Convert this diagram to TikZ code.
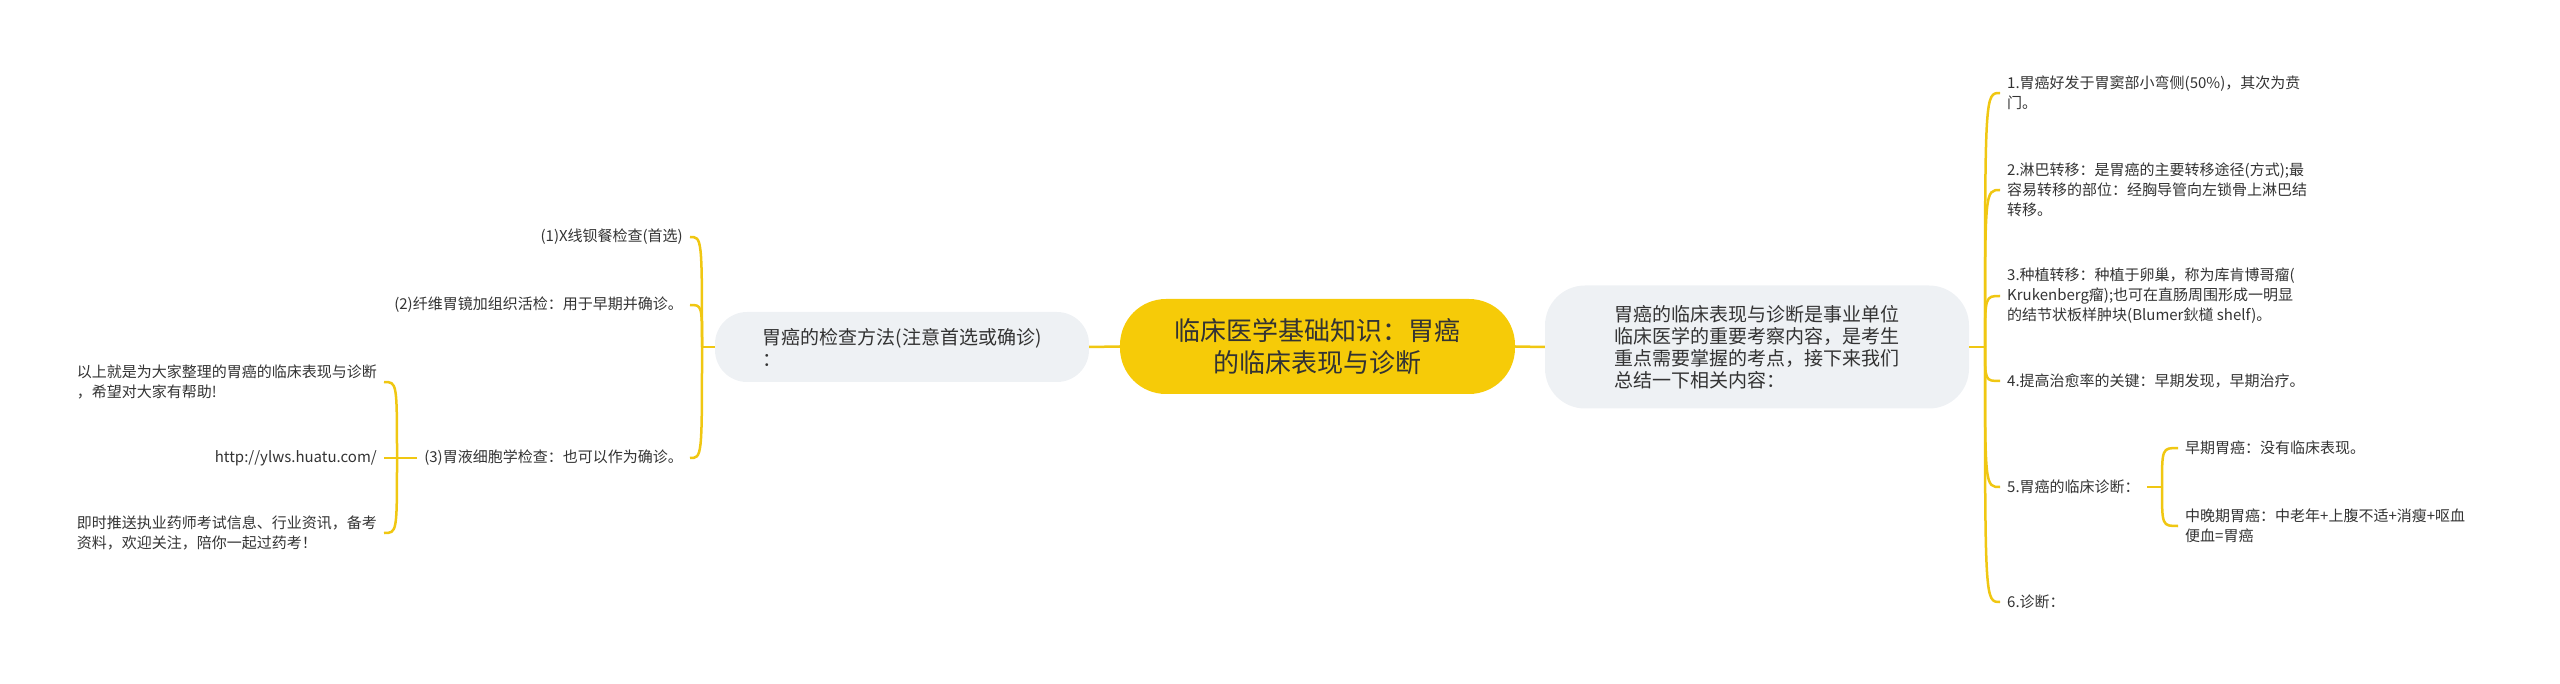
\documentclass[tikz,border=0pt]{standalone}
\usepackage{fontspec}
\setmainfont{Noto Sans CJK SC}
\usepackage{xcolor}
\definecolor{lineyellow}{RGB}{240,199,18}
\definecolor{topicyellow}{RGB}{246,203,8}
\definecolor{boxgray}{RGB}{238,241,244}
\definecolor{txtgray}{RGB}{51,51,51}
\tikzset{
  topicbox/.style={fill=topicyellow, rounded corners=46pt, minimum width=395pt, minimum height=95pt, align=center, text=txtgray, font=\fontsize{26}{32}\selectfont},
  graybox/.style={fill=boxgray, align=left, text=txtgray, font=\fontsize{19}{22}\selectfont},
  leaf/.style={align=left, inner xsep=7pt, inner ysep=0pt, text=txtgray, font=\fontsize{15}{20}\selectfont},
  branch/.style={draw=lineyellow, line width=2.5pt},
}
\begin{document}
\begin{tikzpicture}[x=1pt,y=-1pt]
  \useasboundingbox (0,0) rectangle (2560,684);

  % main topic and the two grey boxes
  \node[topicbox] (topic) at (1317.5,346.5) {临床医学基础知识：胃癌\\的临床表现与诊断};
  \node[graybox, minimum width=424pt, minimum height=123pt, rounded corners=40pt] (intro) at (1757,347) {胃癌的临床表现与诊断是事业单位\\临床医学的重要考察内容，是考生\\重点需要掌握的考点，接下来我们\\总结一下相关内容：};
  \node[graybox, minimum width=374pt, minimum height=70pt, rounded corners=32pt] (exam) at (902,347) {胃癌的检查方法(注意首选或确诊)\\：};

  \coordinate (jR) at (1985,347); \coordinate (jL) at (702,347);
  \coordinate (j5) at (2162,487); \coordinate (j3) at (397,458);

  % right side
  \node[leaf, anchor=west] (r1) at (2000,93) {1.胃癌好发于胃窦部小弯侧(50\%)，其次为贲\\门。};
  \node[leaf, anchor=west] (r2) at (2000,190) {2.淋巴转移：是胃癌的主要转移途径(方式);最\\容易转移的部位：经胸导管向左锁骨上淋巴结\\转移。};
  \node[leaf, anchor=west] (r3) at (2000,296) {3.种植转移：种植于卵巢，称为库肯博哥瘤(\\Krukenberg瘤);也可在直肠周围形成一明显\\的结节状板样肿块(Blumer鈥檤 shelf)。};
  \node[leaf, anchor=west] (r4) at (2000,381) {4.提高治愈率的关键：早期发现，早期治疗。};
  \node[leaf, anchor=west] (r5) at (2000,487) {5.胃癌的临床诊断：};
  \node[leaf, anchor=west] (r6) at (2000,602) {6.诊断：};
  \node[leaf, anchor=west] (r5a) at (2178,448) {早期胃癌：没有临床表现。};
  \node[leaf, anchor=west] (r5b) at (2178,526) {中晚期胃癌：中老年+上腹不适+消瘦+呕血\\便血=胃癌};

  % left side
  \node[leaf, anchor=east] (l1) at (690,237) {(1)X线钡餐检查(首选)};
  \node[leaf, anchor=east] (l2) at (690,305) {(2)纤维胃镜加组织活检：用于早期并确诊。};
  \node[leaf, anchor=east] (l3) at (690,458) {(3)胃液细胞学检查：也可以作为确诊。};
  \node[leaf, anchor=east] (l3a) at (384,382) {以上就是为大家整理的胃癌的临床表现与诊断\\，希望对大家有帮助!};
  \node[leaf, anchor=east] (l3b) at (384,458) {http://ylws.huatu.com/};
  \node[leaf, anchor=east] (l3c) at (384,533) {即时推送执业药师考试信息、行业资讯，备考\\资料，欢迎关注，陪你一起过药考！};

  % connectors
  \draw[branch] (exam.east) -- (topic.west); \draw[branch] (topic.east) -- (intro.west);
  \draw[branch] (intro.east) -- (jR); \draw[branch] (exam.west) -- (jL);
  \foreach \nd in {r1,r2,r3,r4,r5,r6}
    \draw[branch] (jR) .. controls (jR |- \nd.west) .. (\nd.west);
  \draw[branch] (r5.east) -- (j5);
  \foreach \nd in {r5a,r5b}
    \draw[branch] (j5) .. controls (j5 |- \nd.west) .. (\nd.west);
  \foreach \nd in {l1,l2,l3}
    \draw[branch] (jL) .. controls (jL |- \nd.east) .. (\nd.east);
  \draw[branch] (l3.west) -- (j3);
  \foreach \nd in {l3a,l3b,l3c}
    \draw[branch] (j3) .. controls (j3 |- \nd.east) .. (\nd.east);
\end{tikzpicture}
\end{document}
